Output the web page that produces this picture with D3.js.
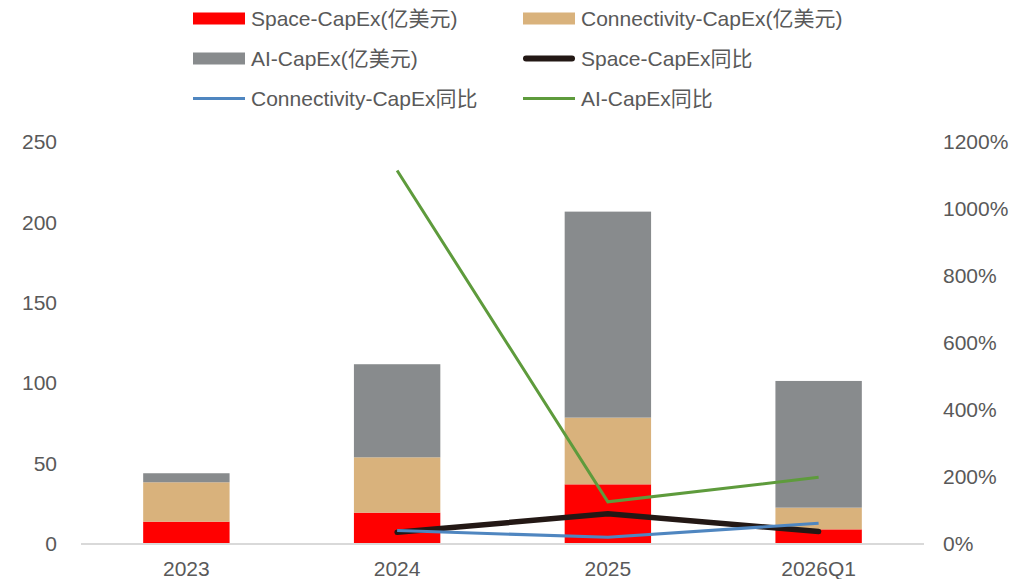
<!DOCTYPE html>
<html>
<head>
<meta charset="utf-8">
<script src="https://cdn.jsdelivr.net/npm/d3@7"></script>
<style>
  html, body { margin: 0; padding: 0; background: #fff; }
  svg text { font-family: "Liberation Sans", Arial, "Noto Sans CJK SC", sans-serif; fill: #595959; }
</style>
</head>
<body>
<svg id="chart" width="1030" height="579"></svg>
<script>
// Categories and series (CapEx in 亿美元, YoY growth as fractions)
const categories = ["2023", "2024", "2025", "2026Q1"];
const spaceCapex = [13.9, 19.5, 37.1, 9.1];
const connCapex = [24.5, 34.4, 41.5, 13.5];
const aiCapex = [5.6, 57.9, 128.1, 78.8];
const spaceYoY = [null, 0.35, 0.90, 0.37];
const connYoY = [null, 0.40, 0.20, 0.62];
const aiYoY = [null, 11.15, 1.26, 1.99];
const leftTicks = [0, 50, 100, 150, 200, 250];
const rightTicks = [0, 2, 4, 6, 8, 10, 12];

const colors = {
  space: "#ff0000", conn: "#d9b27c", ai: "#888b8d",
  spaceLine: "#231815", connLine: "#4f86c0", aiLine: "#5e9b3c"
};

const svg = d3.select("#chart");
const fontSize = 21;

const x = d3.scaleBand().domain(categories).range([81, 924]).padding(0);
const yL = d3.scaleLinear().domain([0, 250]).range([544, 142]);
const yR = d3.scaleLinear().domain([0, 12]).range([544, 142]);
const barFrac = 0.41;
const barX = c => x(c) + x.bandwidth() * (1 - barFrac) / 2;
const barW = x.bandwidth() * barFrac;

// Stacked bars
const rows = categories.map((c, i) => ({ cat: c, space: spaceCapex[i], conn: connCapex[i], ai: aiCapex[i] }));
const stack = d3.stack().keys(["space", "conn", "ai"])(rows);
svg.append("g").selectAll("g").data(stack).join("g")
  .attr("fill", d => colors[d.key])
  .selectAll("rect").data(d => d).join("rect")
  .attr("x", d => barX(d.data.cat))
  .attr("width", barW)
  .attr("y", d => yL(d[1]))
  .attr("height", d => yL(d[0]) - yL(d[1]));

// Baseline
svg.append("line")
  .attr("x1", 81).attr("x2", 924)
  .attr("y1", yL(0)).attr("y2", yL(0))
  .attr("stroke", "#d9d9d9").attr("stroke-width", 2);

// Left axis labels
const leftAxis = d3.axisLeft(yL).tickValues(leftTicks).tickSize(0).tickPadding(0).tickFormat(d3.format("d"));
svg.append("g").attr("transform", "translate(57,0)").call(leftAxis)
  .call(g => g.select(".domain").remove())
  .selectAll("text").attr("font-size", fontSize).attr("fill", "#595959")
  .attr("font-family", '"Liberation Sans", Arial, sans-serif');

// Right axis labels
const rightAxis = d3.axisRight(yR).tickValues(rightTicks).tickSize(0).tickPadding(0)
  .tickFormat(d => d3.format(".0f")(d * 100) + "%");
svg.append("g").attr("transform", "translate(943,0)").call(rightAxis)
  .call(g => g.select(".domain").remove())
  .selectAll("text").attr("font-size", fontSize).attr("fill", "#595959")
  .attr("font-family", '"Liberation Sans", Arial, sans-serif');

// Category labels
const bottomAxis = d3.axisBottom(x).tickSize(0).tickPadding(0);
svg.append("g").attr("transform", "translate(0,560)").call(bottomAxis)
  .call(g => g.select(".domain").remove())
  .selectAll("text").attr("font-size", fontSize).attr("fill", "#595959")
  .attr("dy", "0.75em")
  .attr("font-family", '"Liberation Sans", Arial, sans-serif');

// YoY lines
const cx = c => x(c) + x.bandwidth() / 2;
const line = d3.line()
  .defined(d => d.v !== null)
  .x(d => cx(d.cat))
  .y(d => yR(d.v));
const lineSeries = [
  { key: "ai", vals: aiYoY, color: colors.aiLine, w: 3, cap: "butt" },
  { key: "space", vals: spaceYoY, color: colors.spaceLine, w: 5.5, cap: "round" },
  { key: "conn", vals: connYoY, color: colors.connLine, w: 3, cap: "butt" }
];
svg.append("g").selectAll("path").data(lineSeries).join("path")
  .attr("d", s => line(categories.map((c, i) => ({ cat: c, v: s.vals[i] }))))
  .attr("fill", "none")
  .attr("stroke", d => d.color)
  .attr("stroke-width", d => d.w)
  .attr("stroke-linecap", d => d.cap)
  .attr("stroke-linejoin", "miter");

// Legend
const legendItems = [
  { label: "Space-CapEx(亿美元)", type: "rect", color: colors.space, col: 0, row: 0 },
  { label: "Connectivity-CapEx(亿美元)", type: "rect", color: colors.conn, col: 1, row: 0 },
  { label: "AI-CapEx(亿美元)", type: "rect", color: colors.ai, col: 0, row: 1 },
  { label: "Space-CapEx同比", type: "line", color: colors.spaceLine, w: 6, col: 1, row: 1 },
  { label: "Connectivity-CapEx同比", type: "line", color: colors.connLine, w: 3, col: 0, row: 2 },
  { label: "AI-CapEx同比", type: "line", color: colors.aiLine, w: 3, col: 1, row: 2 }
];
const colX = [193, 523];
const rowY = [18.5, 58.5, 98.5];
const lg = svg.append("g").selectAll("g").data(legendItems).join("g")
  .attr("transform", d => `translate(${colX[d.col]},${rowY[d.row]})`);
lg.filter(d => d.type === "rect").append("rect")
  .attr("x", 0).attr("y", -6).attr("width", 52).attr("height", 12)
  .attr("fill", d => d.color);
lg.filter(d => d.type === "line").append("line")
  .attr("x1", d => d.w > 4 ? 3 : 0).attr("x2", d => d.w > 4 ? 49 : 52)
  .attr("y1", 0).attr("y2", 0)
  .attr("stroke", d => d.color).attr("stroke-width", d => d.w)
  .attr("stroke-linecap", d => d.w > 4 ? "round" : "butt");
lg.append("text")
  .attr("x", 58).attr("y", 0).attr("dy", "0.35em")
  .attr("font-size", fontSize)
  .text(d => d.label);
</script>
</body>
</html>
